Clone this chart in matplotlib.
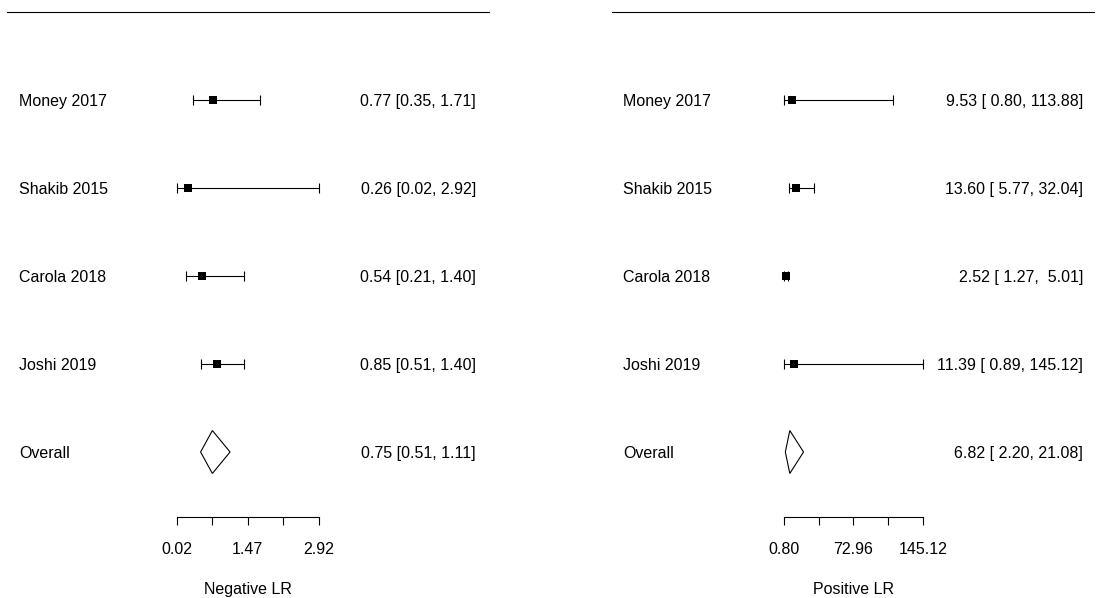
import numpy as np
import matplotlib
matplotlib.use("Agg")
import matplotlib.pyplot as plt

plt.rcParams['font.family'] = ['Liberation Sans', 'DejaVu Sans']

studies = ["Money 2017", "Shakib 2015", "Carola 2018", "Joshi 2019"]

# negative likelihood ratio
neg_est = [0.77, 0.26, 0.54, 0.85]
neg_lo = [0.35, 0.02, 0.21, 0.51]
neg_hi = [1.71, 2.92, 1.40, 1.40]
neg_overall = (0.75, 0.51, 1.11)
neg_ticks = [0.02, 0.745, 1.47, 2.195, 2.92]

# positive likelihood ratio
pos_est = [9.53, 13.60, 2.52, 11.39]
pos_lo = [0.80, 5.77, 1.27, 0.89]
pos_hi = [113.88, 32.04, 5.01, 145.12]
pos_overall = (6.82, 2.20, 21.08)
pos_ticks = [0.80, 36.88, 72.96, 109.04, 145.12]

FS = 11.5
LW = 0.8
VA = "center_baseline"


def draw_panel(ax, est, lo, hi, overall, ticks, xlabel, xlim, lab_x, txt_x, line_x):
    ax.set_xlim(*xlim)
    ax.set_ylim(-0.659, 6.136)
    ax.axis("off")
    rows = np.arange(len(studies) + 1, 1, -1)  # 5..2, overall at 1
    yt = ax.get_yaxis_transform()

    # CI bounds padded to the width of the widest estimate
    w = max(len(f"{v:.2f}") for v in list(est) + [overall[0]])

    def annot(e, l, h):
        return f"{e:.2f} [{l:>{w}.2f}, {h:>{w}.2f}]"

    # top line
    ax.plot(line_x, [6, 6], color="black", lw=LW, transform=yt, clip_on=False)

    for r, name, e, l, h in zip(rows, studies, est, lo, hi):
        ax.plot([l, h], [r, r], color="black", lw=LW, solid_capstyle="butt")
        ax.vlines([l, h], r - 0.062, r + 0.062, color="black", lw=LW)
        ax.plot([e], [r], marker="s", ms=5.4, color="black", mec="black", mew=0)
        ax.text(lab_x, r, name, transform=yt, ha="left", va=VA, fontsize=FS)
        ax.text(txt_x, r, annot(e, l, h), transform=yt, ha="right", va=VA, fontsize=FS)

    # summary diamond
    e, l, h = overall
    ax.fill([l, e, h, e, l], [1, 1.244, 1, 0.756, 1], facecolor="white", edgecolor="black", lw=LW)
    ax.text(lab_x, 1, "Overall", transform=yt, ha="left", va=VA, fontsize=FS)
    ax.text(txt_x, 1, annot(e, l, h), transform=yt, ha="right", va=VA, fontsize=FS)

    # x axis
    ya = 0.261
    ax.plot([ticks[0], ticks[-1]], [ya, ya], color="black", lw=LW)
    ax.vlines(ticks, ya - 0.091, ya, color="black", lw=LW)
    for t in ticks[::2]:
        ax.text(t, -0.091, f"{t:.2f}", ha="center", va=VA, fontsize=FS)
    ax.text((ticks[0] + ticks[-1]) / 2, -0.55, xlabel, ha="center", va=VA, fontsize=FS)


fig = plt.figure(figsize=(10.96, 5.98), dpi=100)
ax1 = fig.add_axes([0, 0, 0.5, 1])
ax2 = fig.add_axes([0.5, 0, 0.5, 1])

draw_panel(ax1, neg_est, neg_lo, neg_hi, neg_overall, neg_ticks, "Negative LR",
           (-3.572, 7.580), 0.0347, 0.8686, [0.0128, 0.8923])
draw_panel(ax2, pos_est, pos_lo, pos_hi, pos_overall, pos_ticks, "Positive LR",
           (-244.23, 324.74), 0.1369, 0.9763, [0.1168, 0.9964])

fig.savefig("out.png", dpi=100, facecolor="white")
